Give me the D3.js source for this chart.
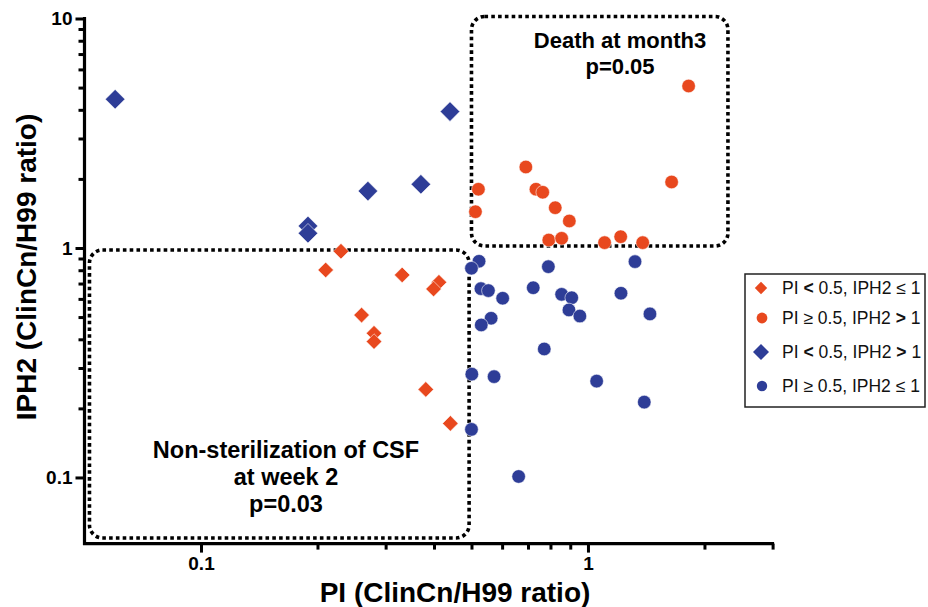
<!DOCTYPE html>
<html>
<head>
<meta charset="utf-8">
<script src="https://cdn.jsdelivr.net/npm/d3@7/dist/d3.min.js"></script>
<style>
  html, body { margin: 0; padding: 0; background: #fff; }
  svg { display: block; font-family: "Liberation Sans", Arial, Helvetica, sans-serif; }
</style>
</head>
<body>
<svg id="chart" width="928" height="607"></svg>
<script>
// ---------------- data ----------------
// PI < 0.5, IPH2 <= 1  (red diamonds)
const redDiamondPI   = [0.230, 0.210, 0.331, 0.412, 0.399, 0.260, 0.280, 0.280, 0.381, 0.441];
const redDiamondIPH2 = [0.968, 0.802, 0.763, 0.709, 0.663, 0.510, 0.425, 0.391, 0.242, 0.172];

// PI >= 0.5, IPH2 > 1  (red circles)
const redCirclePI   = [1.820, 0.691, 1.645, 0.521, 0.512, 0.734, 0.764, 0.823, 0.895, 0.792, 0.855, 1.104, 1.215, 1.385];
const redCircleIPH2 = [5.08, 2.254, 1.939, 1.803, 1.439, 1.803, 1.749, 1.498, 1.311, 1.083, 1.102, 1.055, 1.120, 1.055];

// PI < 0.5, IPH2 > 1  (blue diamonds)
const blueDiamondPI   = [0.060, 0.440, 0.270, 0.370, 0.189, 0.189];
const blueDiamondIPH2 = [4.45, 3.93, 1.77, 1.895, 1.247, 1.159];

// PI >= 0.5, IPH2 <= 1  (blue circles)
const blueCirclePI   = [0.523, 0.500, 0.790, 1.323, 0.722, 0.529, 0.553, 0.602, 0.855, 0.908, 1.217, 0.893,
                        0.953, 1.446, 0.562, 0.530, 0.771, 0.501, 0.572, 1.053, 1.398, 0.500, 0.662];
const blueCircleIPH2 = [0.875, 0.816, 0.829, 0.872, 0.671, 0.665, 0.652, 0.604, 0.628, 0.607, 0.635, 0.537,
                        0.505, 0.516, 0.494, 0.462, 0.363, 0.282, 0.275, 0.263, 0.213, 0.162, 0.101];

const legendLabels = [
  ["PI ", "<", " 0.5, IPH2 \u2264 1"],
  ["PI \u2265 0.5, IPH2 ", ">", " 1"],
  ["PI ", "<", " 0.5, IPH2 ", ">", " 1"],
  ["PI \u2265 0.5, IPH2 \u2264 1"]
];

const xMajorTicks = [0.1, 1];
const xMinorTicks = [0.2, 0.3, 0.4, 0.5, 0.6, 0.7, 0.8, 0.9, 2, 3];
const yMajorTicks = [0.1, 1, 10];
const yMinorTicks = [0.2, 0.3, 0.4, 0.5, 0.6, 0.7, 0.8, 0.9, 2, 3, 4, 5, 6, 7, 8, 9];

const xTitle = "PI (ClinCn/H99 ratio)";
const yTitle = "IPH2 (ClinCn/H99 ratio)";

// annotation regions (data space)
const deathBox   = { x0: 0.5,    x1: 2.3,   y0: 1.02,   y1: 10.2, lines: ["Death at month3", "p=0.05"] };
const nonSterBox = { x0: 0.0515, x1: 0.493, y0: 0.0545, y1: 0.98, lines: ["Non-sterilization of CSF", "at week 2", "p=0.03"] };

// ---------------- style ----------------
const RED = "#E8481E";
const BLUE = "#2E3D97";

// ---------------- scales ----------------
const svg = d3.select("#chart");
const x = d3.scaleLog().domain([0.05, 3]).range([84.5, 772.6]);
const y = d3.scaleLog().domain([0.0515, 10]).range([543.6, 18.5]);

// ---------------- annotation boxes ----------------
function drawBox(b) {
  svg.append("rect")
    .attr("x", x(b.x0)).attr("y", y(b.y1))
    .attr("width", x(b.x1) - x(b.x0)).attr("height", y(b.y0) - y(b.y1))
    .attr("rx", 13).attr("ry", 13)
    .attr("fill", "none").attr("stroke", "#000")
    .attr("stroke-width", 3.6).attr("stroke-dasharray", "3.6 3.2");
}
drawBox(deathBox);
drawBox(nonSterBox);

svg.append("text").attr("x", 620).attr("y", 48).attr("text-anchor", "middle")
  .attr("font-size", 22).attr("font-weight", "bold").text(deathBox.lines[0]);
svg.append("text").attr("x", 620).attr("y", 74).attr("text-anchor", "middle")
  .attr("font-size", 22).attr("font-weight", "bold").text(deathBox.lines[1]);

nonSterBox.lines.forEach((t, i) => {
  svg.append("text").attr("x", 286).attr("y", 458 + i * 27).attr("text-anchor", "middle")
    .attr("font-size", 23.5).attr("font-weight", "bold").text(t);
});

// ---------------- axes ----------------
const axisG = svg.append("g");
// x axis
const xAxisMajor = d3.axisBottom(x).tickValues(xMajorTicks).tickSize(9).tickSizeOuter(0)
  .tickPadding(4).tickFormat(d => d3.format("~g")(d));
const xAxisMinor = d3.axisBottom(x).tickValues(xMinorTicks).tickSize(6).tickSizeOuter(0).tickFormat("");
axisG.append("g").attr("transform", `translate(0,${y.range()[0]})`).call(xAxisMinor);
axisG.append("g").attr("transform", `translate(0,${y.range()[0]})`).call(xAxisMajor);
// y axis
const yAxisMajor = d3.axisLeft(y).tickValues(yMajorTicks).tickSize(9).tickSizeOuter(0)
  .tickPadding(3).tickFormat(d => d3.format("~g")(d));
const yAxisMinor = d3.axisLeft(y).tickValues(yMinorTicks).tickSize(6).tickSizeOuter(0).tickFormat("");
axisG.append("g").attr("transform", `translate(${x.range()[0]},0)`).call(yAxisMinor);
axisG.append("g").attr("transform", `translate(${x.range()[0]},0)`).call(yAxisMajor);

axisG.selectAll(".domain").remove();
axisG.selectAll(".tick line").attr("stroke", "#000").attr("stroke-width", 3);
axisG.selectAll(".tick text").attr("fill", "#000").attr("font-size", 19).attr("font-weight", "bold")
  .attr("font-family", "'Liberation Sans', Arial, sans-serif");

// axis lines
axisG.append("line")
  .attr("x1", x.range()[0] - 1.5).attr("x2", x.range()[1] + 1.5)
  .attr("y1", y.range()[0]).attr("y2", y.range()[0])
  .attr("stroke", "#000").attr("stroke-width", 3.2);
axisG.append("line")
  .attr("x1", x.range()[0]).attr("x2", x.range()[0])
  .attr("y1", y.range()[1] - 1.5).attr("y2", y.range()[0] + 1.5)
  .attr("stroke", "#000").attr("stroke-width", 3.2);

// axis titles
svg.append("text").attr("x", 455).attr("y", 602).attr("text-anchor", "middle")
  .attr("font-size", 28).attr("font-weight", "bold").text(xTitle);
svg.append("text").attr("transform", "translate(36,267) rotate(-90)").attr("text-anchor", "middle")
  .attr("font-size", 28).attr("font-weight", "bold").text(yTitle);

// ---------------- marks ----------------
const diamond = (s) => `M0,${-s}L${s},0L0,${s}L${-s},0Z`;
const marks = svg.append("g");

function drawDiamonds(pis, iph, color, s) {
  marks.selectAll(null).data(d3.zip(pis, iph)).join("path")
    .attr("transform", d => `translate(${x(d[0])},${y(d[1])})`)
    .attr("d", diamond(s)).attr("fill", color)
    .attr("stroke", "#fff").attr("stroke-width", 0.8).attr("stroke-opacity", 0.7);
}
function drawCircles(pis, iph, color, r) {
  marks.selectAll(null).data(d3.zip(pis, iph)).join("circle")
    .attr("cx", d => x(d[0])).attr("cy", d => y(d[1])).attr("r", r).attr("fill", color)
    .attr("stroke", "#fff").attr("stroke-width", 0.8).attr("stroke-opacity", 0.7);
}
drawDiamonds(redDiamondPI, redDiamondIPH2, RED, 7.8);
drawDiamonds(blueDiamondPI, blueDiamondIPH2, BLUE, 9.8);
drawCircles(redCirclePI, redCircleIPH2, RED, 6.8);
drawCircles(blueCirclePI, blueCircleIPH2, BLUE, 6.8);

// ---------------- legend ----------------
const lg = svg.append("g");
lg.append("rect").attr("x", 745).attr("y", 274).attr("width", 180).attr("height", 133)
  .attr("fill", "#fff").attr("stroke", "#222").attr("stroke-width", 1.5);
const legendRows = [
  { type: "diamond", color: RED,  s: 6.2, cy: 288 },
  { type: "circle",  color: RED,  s: 5.4, cy: 318 },
  { type: "diamond", color: BLUE, s: 8,   cy: 352 },
  { type: "circle",  color: BLUE, s: 5.2, cy: 386 }
];
legendRows.forEach((r, i) => {
  if (r.type === "diamond") {
    lg.append("path").attr("transform", `translate(761,${r.cy})`).attr("d", diamond(r.s)).attr("fill", r.color);
  } else {
    lg.append("circle").attr("cx", 762).attr("cy", r.cy).attr("r", r.s).attr("fill", r.color);
  }
  const t = lg.append("text").attr("x", 782).attr("y", r.cy + 6).attr("font-size", 17.5).attr("fill", "#111");
  legendLabels[i].forEach(part => {
    t.append("tspan").attr("font-weight", (part === "<" || part === ">") ? "bold" : "normal").text(part);
  });
});
</script>
</body>
</html>
